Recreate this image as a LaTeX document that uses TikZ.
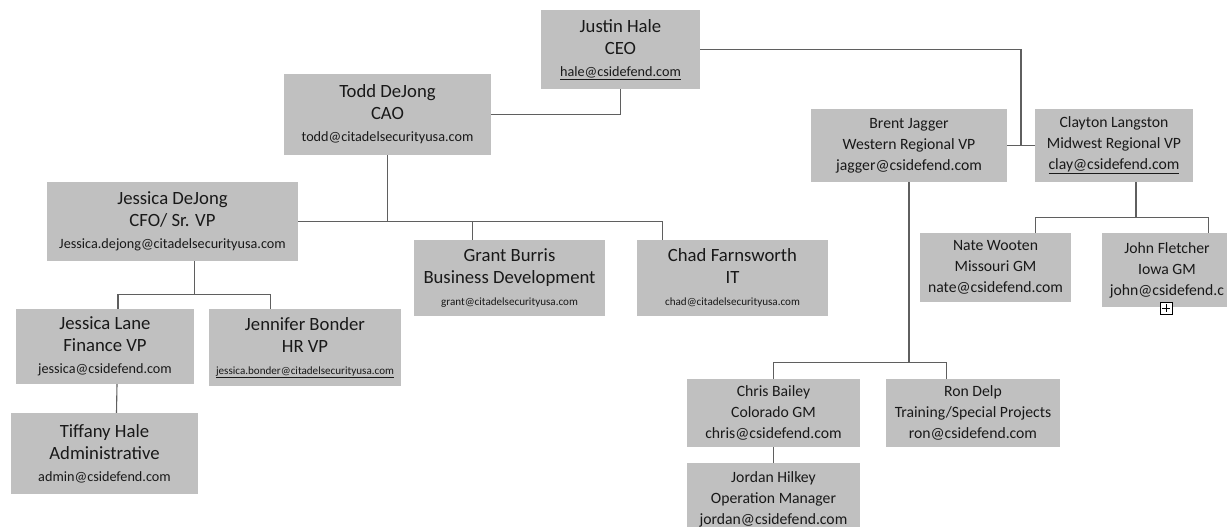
\documentclass[tikz,border=0pt]{standalone}
\usepackage{fontspec}
\setmainfont{Carlito}
\usetikzlibrary{calc}
\definecolor{boxgray}{RGB}{192,192,192}
\definecolor{linegray}{RGB}{95,95,95}
\definecolor{inkgray}{RGB}{25,25,25}
\newcommand{\mailsize}{\fontsize{14.2}{22}\selectfont}
\newcommand{\tinymail}{\fontsize{11.1}{22}\selectfont}

\begin{document}
\begin{tikzpicture}[x=1pt, y=-1pt,
        chartbox/.style={fill=boxgray, text=inkgray, inner sep=0pt, align=center},
        topbox/.style={chartbox, font=\fontsize{18.7}{22}\selectfont},
        regionbox/.style={chartbox, font=\fontsize{15.7}{21}\selectfont},
        link/.style={draw=linegray, line width=1.1pt}]
        \useasboundingbox (0,0) rectangle (1227,527);
        \clip (0,0) rectangle (1227,527);
        \node[topbox, minimum width=159, minimum height=79] (ceo) at (620.5,49.5) {Justin Hale\\CEO\\{\mailsize\underline{hale@csidefend.com}}};
        \node[topbox, minimum width=207, minimum height=81] (cao) at (387.5,114.5) {Todd DeJong\\CAO\\{\mailsize todd@citadelsecurityusa.com}};
        \node[topbox, minimum width=251, minimum height=79] (jd) at (172.5,221.5) {Jessica DeJong\\CFO/ Sr. VP\\{\mailsize Jessica.dejong@citadelsecurityusa.com}};
        \node[topbox, minimum width=191, minimum height=76] (grant) at (509.5,278) {Grant Burris\\Business Development\\{\tinymail grant@citadelsecurityusa.com}};
        \node[topbox, minimum width=191, minimum height=76] (chad) at (732.5,278) {Chad Farnsworth\\IT\\{\tinymail chad@citadelsecurityusa.com}};
        \node[topbox, minimum width=178, minimum height=75] (jl) at (105,346.5) {Jessica Lane\\Finance VP\\{\mailsize jessica@csidefend.com}};
        \node[topbox, minimum width=192, minimum height=77] (jb) at (305,347.5) {Jennifer Bonder\\HR VP\\{\tinymail\underline{jessica.bonder@citadelsecurityusa.com}}};
        \node[topbox, minimum width=187, minimum height=81] (tiff) at (104.5,453.5) {Tiffany Hale\\Administrative\\{\mailsize admin@csidefend.com}};
        \node[regionbox, minimum width=196, minimum height=73] (brent) at (909,145.5) {Brent Jagger\\Western Regional VP\\jagger@csidefend.com};
        \node[regionbox, minimum width=158, minimum height=73] (clay) at (1114,145.5) {Clayton Langston\\Midwest Regional VP\\\underline{clay@csidefend.com}};
        \node[regionbox, minimum width=151, minimum height=69] (nate) at (995.5,267.5) {Nate Wooten\\Missouri GM\\nate@csidefend.com};
        \node[regionbox, minimum width=130, minimum height=74] (john) at (1167,270) {John Fletcher\\Iowa GM\\john@csidefend.c};
        \node[regionbox, minimum width=173, minimum height=68] (chris) at (773.5,413) {Chris Bailey\\Colorado GM\\chris@csidefend.com};
        \node[regionbox, minimum width=174, minimum height=68] (ron) at (973,413) {Ron Delp\\Training/Special Projects\\ron@csidefend.com};
        \node[regionbox, minimum width=173, minimum height=72] (jordan) at (773.5,499) {Jordan Hilkey\\Operation Manager\\jordan@csidefend.com};
        \node[draw=black, fill=white, minimum size=12, inner sep=0pt, line width=0.8pt] (expand) at (1166,308) {};
        \draw[line width=0.8pt] ([yshift=-2.5]expand.north) -- ([yshift=2.5]expand.south) ([xshift=2.5]expand.west) -- ([xshift=-2.5]expand.east);
        \coordinate (hub) at ($(brent.east)!0.5!(clay.west)$);
        \draw[link] (cao.east) -| (ceo.south);
        \draw[link] (ceo.east) -| (hub);
        \draw[link] (brent.east) -- (clay.west);
        \draw[link] (cao.south) |- (jd.east);
        \draw[link] (jd.east) -| ([xshift=26]chad.north west);
        \draw[link] ([xshift=59]grant.north west) |- (jd.east);
        \draw[link] ([xshift=22]jd.south) -- ++(0,33) coordinate (jdbus);
        \draw[link] ([xshift=13]jl.north) |- (jdbus) -| ([xshift=62]jb.north west);
        \draw[link] ([xshift=12]jl.south) -- ([xshift=12]tiff.north);
        \draw[link] (brent.south) |- ([yshift=16]chris.north) -- (chris.north);
        \draw[link] (brent.south) |- ([xshift=61,yshift=16]ron.north west) -- ([xshift=61]ron.north west);
        \draw[link] (chris.south) -- (jordan.north);
        \draw[link] ([xshift=22]clay.south) |- ([xshift=40,yshift=15]nate.north) -- ([xshift=40]nate.north);
        \draw[link] ([xshift=22]clay.south) |- ([xshift=107,yshift=15]john.north west) -- ([xshift=107]john.north west);
\end{tikzpicture}
\end{document}
